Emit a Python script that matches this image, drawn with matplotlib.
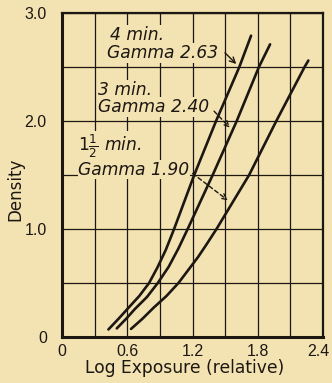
import numpy as np
import matplotlib
matplotlib.use("Agg")
import matplotlib.pyplot as plt
from matplotlib.transforms import ScaledTranslation

# curves: log exposure vs density
x_4min = [0.426, 0.52, 0.61, 0.71, 0.80, 0.88, 0.955, 1.03, 1.215, 1.416, 1.63, 1.738]
d_4min = [0.07, 0.17, 0.27, 0.38, 0.50, 0.65, 0.81, 1.00, 1.50, 2.00, 2.50, 2.79]
x_3min = [0.503, 0.59, 0.67, 0.78, 0.88, 0.98, 1.07, 1.155, 1.385, 1.606, 1.81, 1.913]
d_3min = [0.08, 0.17, 0.26, 0.37, 0.50, 0.65, 0.82, 1.00, 1.50, 2.00, 2.50, 2.71]
x_15min = [0.634, 0.74, 0.84, 0.96, 1.07, 1.16, 1.25, 1.33, 1.42, 1.72, 1.97, 2.23, 2.265]
d_15min = [0.075, 0.17, 0.27, 0.38, 0.50, 0.62, 0.74, 0.86, 1.00, 1.50, 2.00, 2.50, 2.56]

xticks = [0, 0.6, 1.2, 1.8, 2.4]
xticklabels = ["0", "0.6", "1.2", "1.8", "2.4"]
yticks = [0, 1, 2, 3]
yticklabels = ["0", "1.0", "2.0", "3.0"]

bg = "#f3e3b2"
ink = "#1c1712"

fig = plt.figure(figsize=(3.32, 3.83), dpi=100, facecolor=bg)
ax = fig.add_axes([0.187, 0.120, 0.786, 0.846], facecolor=bg)

ax.set_xlim(0, 2.4)
ax.set_ylim(0, 3.0)
ax.set_xticks(np.arange(0, 2.41, 0.3), minor=True)
ax.set_yticks(np.arange(0, 3.01, 0.5), minor=True)
ax.set_xticks(xticks)
ax.set_xticklabels(xticklabels)
ax.set_yticks(yticks)
ax.set_yticklabels(yticklabels)
ax.grid(which="both", color=ink, lw=0.9, zorder=0)
ax.tick_params(which="both", length=0, labelsize=11.5, colors=ink)
ax.tick_params(axis="y", pad=11)
ax.tick_params(axis="x", pad=5)
for lab in ax.get_xticklabels() + ax.get_yticklabels():
    lab.set_family("Liberation Sans")
# last x label sits a bit left of its gridline, as in the original
last = ax.get_xticklabels()[-1]
last.set_transform(last.get_transform() + ScaledTranslation(-5 / 100, 0, fig.dpi_scale_trans))
for s in ax.spines.values():
    s.set_color(ink)
    s.set_linewidth(1.6)
ax.spines["left"].set_linewidth(2.2)
ax.spines["bottom"].set_linewidth(2.2)

for xs, ds in [(x_4min, d_4min), (x_3min, d_3min), (x_15min, d_15min)]:
    ax.plot(xs, ds, color=ink, lw=1.9, solid_capstyle="round",
            solid_joinstyle="round", zorder=3)

box = dict(facecolor=bg, edgecolor="none", pad=0.5)
tk = dict(fontsize=12.3, style="italic", color=ink, zorder=4, bbox=box)
ax.text(0.44, 2.80, "4 min.", va="center", **tk)
ax.text(0.41, 2.63, "Gamma 2.63", va="center", **tk)
ax.text(0.33, 2.29, "3 min.", va="center", **tk)
ax.text(0.33, 2.13, "Gamma 2.40", va="center", **tk)
ax.text(0.15, 1.77, r"$1\frac{1}{2}$ min.", va="center", **tk)
ax.text(0.15, 1.55, "Gamma 1.90", va="center", **tk)

ax.annotate("", xy=(1.62, 2.51), xytext=(1.48, 2.65),
            arrowprops=dict(arrowstyle="->", color=ink, lw=1.0), zorder=4)
ax.annotate("", xy=(1.56, 1.92), xytext=(1.38, 2.11),
            arrowprops=dict(arrowstyle="->", color=ink, lw=1.0, linestyle=(0, (3, 2))), zorder=4)
ax.annotate("", xy=(1.545, 1.25), xytext=(1.18, 1.53),
            arrowprops=dict(arrowstyle="->", color=ink, lw=1.0, linestyle=(0, (3, 2))), zorder=4)

ax.set_xlabel("Log Exposure (relative)", fontsize=12.3, color=ink)
ax.set_ylabel("Density", fontsize=12, color=ink)
ax.xaxis.set_label_coords(0.47, -0.068)
ax.yaxis.set_label_coords(-0.145, 0.457)

fig.savefig("out.png", dpi=100, facecolor=bg)
